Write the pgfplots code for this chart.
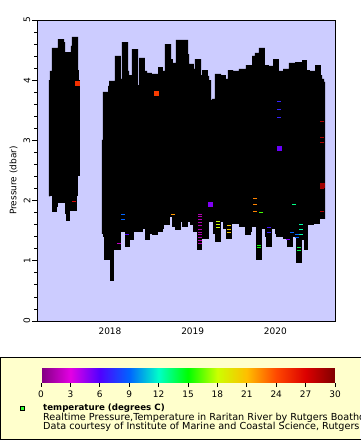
\documentclass[border=0pt]{standalone}
\usepackage{pgfplots}
\pgfplotsset{compat=1.18}
\usepackage{fontspec}
\setmainfont{DejaVu Sans}
\definecolor{plotbg}{HTML}{CCCCFF}
\definecolor{legbg}{HTML}{FFFFCC}
\pgfplotsset{
  colormap={erddap}{rgb255(0)=(128,0,128) rgb255(3)=(228,0,228) rgb255(6)=(80,0,255) rgb255(9)=(0,100,255) rgb255(12)=(0,255,200) rgb255(15)=(0,255,0) rgb255(18)=(204,255,0) rgb255(21)=(255,190,0) rgb255(24)=(255,72,0) rgb255(27)=(220,0,0) rgb255(30)=(128,0,0)},
}
\begin{document}
\begin{tikzpicture}[x=1bp,y=1bp]
\fill[white] (0,0) rectangle (360,440);
% legend box (runs past the right edge)
\fill[legbg] (0.5,0.7) rectangle (360,83);
\draw[line width=0.8bp] (365,0.7) -- (0.5,0.7) -- (0.5,83) -- (365,83);
\draw[fill=green!80!white, line width=0.8bp] (20.3,29.3) rectangle (24.3,33.3);
\node[anchor=base west, inner sep=0, font=\bfseries\fontsize{8.7}{10}\selectfont] at (43,29) {temperature (degrees C)};
\node[anchor=base west, inner sep=0, font=\fontsize{9.7}{10}\selectfont] at (43,19.4) {Realtime Pressure,Temperature in Raritan River by Rutgers Boathouse};
\node[anchor=base west, inner sep=0, font=\fontsize{9.7}{10}\selectfont] at (43,10.4) {Data courtesy of Institute of Marine and Coastal Science, Rutgers University};

\begin{axis}[
  at={(37bp,119bp)}, anchor=south west, scale only axis,
  width=298bp, height=301bp,
  xmin=2017.117, xmax=2020.722, ymin=0, ymax=5,
  axis background/.style={fill=plotbg},
  axis on top,
  axis line style={line width=0.8bp},
  xtick={2018,2019,2020}, xticklabels={2018,2019,2020},
  x tick style={draw=none},
  ytick={0,1,2,3,4,5}, minor y tick num=4,
  ytick pos=left, tick align=outside,
  major tick length=5bp, minor tick length=3bp,
  y tick style={line width=0.8bp, black},
  tick label style={font=\fontsize{9}{10}\selectfont},
  /pgf/number format/assume math mode=true,
  yticklabel style={rotate=90, anchor=south, inner sep=1.5bp},
  xticklabel style={inner sep=2bp},
  ylabel={Pressure (dbar)},
  every axis y label/.style={at={(axis description cs:0,0.5)}, xshift=-23.5bp, yshift=-10bp, rotate=90, anchor=center, font=\fontsize{9}{11}\selectfont},
  colormap name=erddap, point meta min=0, point meta max=30,
  colorbar horizontal,
  colorbar style={
    at={(parent axis.south west)}, anchor=south west, xshift=4bp, yshift=-53bp,
    scale only axis, width=294bp, height=15bp,
    xtick={0,3,...,30}, ytick=\empty,
    axis line style={draw=none},
    xtick pos=bottom, tick align=outside, major tick length=4bp,
    x tick style={line width=0.8bp, black},
    tick label style={font=\fontsize{9}{10}\selectfont},
    /pgf/number format/assume math mode=true,
    xticklabel style={inner sep=1.5bp, yshift=-3bp},
  },
  clip=true,
]
% upper envelopes (filled down to 0), then lower envelopes (background colour)
\addplot[const plot, fill=black, draw=none] coordinates {
(2017.262,4.003) (2017.274,4.153) (2017.298,4.535) (2017.371,4.684) (2017.444,4.634)
(2017.456,4.468) (2017.528,4.568) (2017.540,4.718) (2017.613,4.169) (2017.625,4.003) (2017.637,4.003)} \closedcycle;
\addplot[const plot, fill=black, draw=none] coordinates {
(2017.903,3.007) (2017.915,3.804) (2017.976,3.904) (2017.988,3.987) (2018.060,4.402)
(2018.133,4.020) (2018.145,4.634) (2018.218,4.153) (2018.230,4.086) (2018.266,4.518)
(2018.339,3.920) (2018.351,4.369) (2018.423,4.153) (2018.448,4.120) (2018.508,4.103)
(2018.581,4.219) (2018.641,4.153) (2018.665,4.601) (2018.738,4.352) (2018.762,4.286)
(2018.798,4.668) (2018.944,4.435) (2018.956,4.269) (2019.016,4.186) (2019.028,4.352)
(2019.101,4.086) (2019.113,4.169) (2019.185,4.070) (2019.198,4.003) (2019.222,3.671)
(2019.234,3.688) (2019.270,4.103) (2019.343,4.086) (2019.403,4.020) (2019.427,4.169)
(2019.488,4.153) (2019.560,4.186) (2019.645,4.252) (2019.718,4.402) (2019.754,4.452)
(2019.802,4.535) (2019.875,4.252) (2019.923,4.236) (2019.972,4.352) (2020.044,4.153)
(2020.093,4.186) (2020.165,4.286) (2020.238,4.302) (2020.323,4.335) (2020.383,4.169)
(2020.419,4.153) (2020.480,4.252) (2020.552,4.086) (2020.565,4.020) (2020.589,3.970)
(2020.601,3.970)} \closedcycle;
\addplot[const plot, fill=plotbg, draw=plotbg, line width=1bp] coordinates {
(2017.250,2.060) (2017.262,2.060) (2017.298,1.794) (2017.371,1.877) (2017.383,1.960) (2017.444,1.777)
(2017.456,1.661) (2017.528,1.811) (2017.601,2.060) (2017.613,2.159) (2017.625,2.392) (2017.649,2.392)} \closedcycle;
\addplot[const plot, fill=plotbg, draw=plotbg, line width=1bp] coordinates {
(2017.891,1.429) (2017.903,1.429) (2017.915,1.379) (2017.927,1.013) (2017.988,0.664) (2018.060,1.179)
(2018.145,1.462) (2018.181,1.213) (2018.254,1.345) (2018.302,1.478) (2018.339,1.462)
(2018.411,1.512) (2018.423,1.345) (2018.496,1.429) (2018.508,1.412) (2018.581,1.462)
(2018.653,1.528) (2018.665,1.578) (2018.726,1.711) (2018.738,1.644) (2018.750,1.561)
(2018.786,1.495) (2018.859,1.628) (2018.871,1.545) (2018.944,1.644) (2018.956,1.578)
(2019.004,1.478) (2019.052,1.179) (2019.125,1.362) (2019.198,1.644) (2019.234,1.429)
(2019.270,1.312) (2019.343,1.628) (2019.355,1.512) (2019.403,1.362) (2019.476,1.595)
(2019.560,1.545) (2019.633,1.412) (2019.706,1.478) (2019.718,1.545) (2019.766,1.013)
(2019.839,1.528) (2019.863,1.395) (2019.887,1.229) (2019.960,1.528) (2019.996,1.429)
(2020.008,1.395) (2020.081,1.362) (2020.141,1.213) (2020.214,1.379) (2020.250,0.963)
(2020.323,1.345) (2020.335,1.179) (2020.407,1.578) (2020.468,1.595) (2020.552,1.694)
(2020.613,1.694)} \closedcycle;
% colored dashes
\addplot[scatter, only marks, mark=-, mark size=2bp, line width=1bp, point meta=explicit,
  scatter/use mapped color={draw=mapped color, fill=mapped color}] table[meta=t] {
x y t
2020.044 3.638 7
2020.044 3.505 7
2020.044 3.372 7
2020.565 3.306 28.5
2020.565 3.040 28.5
2020.565 2.973 28.5
2020.565 2.209 28.5
2020.565 1.811 28.5
2017.565 1.977 27
2018.157 1.777 9
2018.157 1.678 9
2018.206 1.429 6
2018.109 1.279 2
2018.762 1.777 22
2019.089 1.777 1.5
2019.089 1.728 1.5
2019.089 1.678 1.5
2019.089 1.628 1.5
2019.089 1.578 1.5
2019.089 1.528 1.5
2019.089 1.478 1.5
2019.089 1.429 1.5
2019.089 1.379 1.5
2019.089 1.329 1.5
2019.089 1.279 1.5
2019.306 1.661 18
2019.306 1.611 18
2019.306 1.561 18
2019.440 1.578 20.5
2019.440 1.528 20.5
2019.440 1.478 20.5
2019.754 2.043 22.5
2019.754 1.927 22.5
2019.754 1.811 22.5
2019.827 1.794 16
2020.226 1.943 13
2019.802 1.246 15
2019.802 1.213 15
2019.923 1.561 6.5
2019.923 1.478 7
2020.202 1.462 9
2020.153 1.362 5
2020.262 1.445 9
2020.262 1.379 9
2020.310 1.611 12.5
2020.310 1.528 12.5
2020.310 1.429 12.5
2020.286 1.229 14
2020.286 1.179 14
};
% colored squares
\addplot[scatter, only marks, mark=square*, mark size=2bp, point meta=explicit,
  scatter/use mapped color={draw=mapped color, fill=mapped color}] table[meta=t] {
x y t
2017.601 3.953 25
2018.563 3.787 24.5
2019.210 1.943 5
2020.044 2.874 5.5
2020.565 2.259 29
};
\end{axis}
\pgfresetboundingbox
\path[use as bounding box] (0,0) rectangle (360,440);
\end{tikzpicture}
\end{document}
